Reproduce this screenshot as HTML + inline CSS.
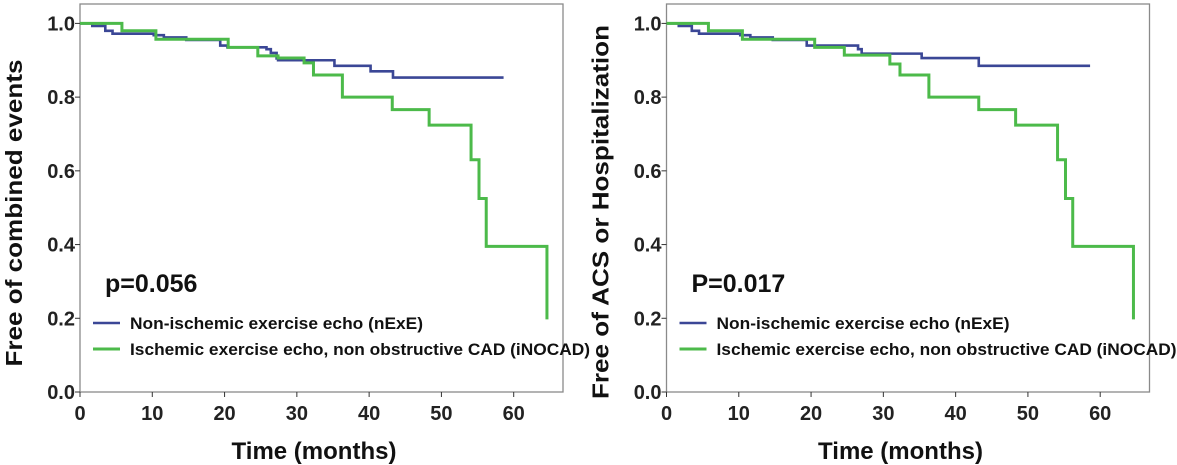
<!DOCTYPE html>
<html><head><meta charset="utf-8"><style>
html,body{margin:0;padding:0;background:#fff;width:1177px;height:465px;overflow:hidden}
svg{display:block;font-family:"Liberation Sans",sans-serif;font-weight:bold}
</style></head><body>
<svg id="chart" width="1177" height="465" viewBox="0 0 1177 465"></svg>
<script>
const xTicks=[0,10,20,30,40,50,60];
const yTicks=[0.0,0.2,0.4,0.6,0.8,1.0];
const yTickLabels=["0.0","0.2","0.4","0.6","0.8","1.0"];
const leftBlueT=[0,1.7,3.5,4.5,10.2,11.6,14.7,19.4,20.4,25.8,26.4,27.2,27.4,31,35.2,40.2,43.3,58.6];
const leftBlueS=[1.0,0.993,0.98,0.972,0.968,0.962,0.955,0.94,0.935,0.93,0.92,0.905,0.9,0.9,0.885,0.87,0.853,0.853];
const leftGreenT=[0,5.8,10.5,20.5,24.6,27.4,31,32.3,36.3,43.2,48.3,54.1,55.2,56.2,64.6];
const leftGreenS=[1.0,0.98,0.957,0.935,0.912,0.906,0.893,0.86,0.8,0.766,0.724,0.63,0.525,0.395,0.197];
const rightBlueT=[0,1.7,3.5,4.5,10.2,11.6,14.7,19.4,20.4,26.5,27,35.3,43.2,58.6];
const rightBlueS=[1.0,0.993,0.98,0.972,0.968,0.962,0.955,0.94,0.94,0.93,0.918,0.906,0.885,0.885];
const rightGreenT=[0,5.8,10.5,20.5,24.6,30.9,32.3,36.3,43.2,48.3,54.1,55.2,56.2,64.6];
const rightGreenS=[1.0,0.98,0.957,0.935,0.914,0.89,0.86,0.8,0.766,0.724,0.63,0.525,0.395,0.197];
const legendLabels=["Non-ischemic exercise echo (nExE)","Ischemic exercise echo, non obstructive CAD (iNOCAD)"];
const pLabels=["p=0.056","P=0.017"];
const yTitles=["Free of combined events","Free of ACS or Hospitalization"];

const NS="http://www.w3.org/2000/svg";
const svg=document.getElementById('chart');
function mk(tag,attrs,parent){const e=document.createElementNS(NS,tag);for(const k in attrs)e.setAttribute(k,attrs[k]);(parent||svg).appendChild(e);return e;}
const BLUE="#3b4796",GREEN="#4cba4a";
function panel(ox,idx,bT,bS,gT,gS){
  const x0=ox,x1=ox+483,yTop=4,yBot=392;
  const xs=t=>x0+t*(433.7/60);
  const ys=v=>392-v*368.6;
  const g=mk('g',{});
  
  
  const fr=mk('rect',{x:x0,y:yTop,width:x1-x0,height:yBot-yTop,fill:'none',stroke:'#8a8a8a','stroke-width':1.3},g);
  
  yTicks.forEach((v,i)=>{
    mk('line',{x1:x0-5,x2:x0,y1:ys(v),y2:ys(v),stroke:'#333','stroke-width':1},g);
    const t=mk('text',{x:x0-5,y:ys(v)+7,'text-anchor':'end','font-size':20,fill:'#222'},g);
    t.textContent=yTickLabels[i];
    
  });
  xTicks.forEach(v=>{
    mk('line',{x1:xs(v),x2:xs(v),y1:yBot,y2:yBot+5,stroke:'#333','stroke-width':1},g);
    const t=mk('text',{x:xs(v),y:420,'text-anchor':'middle','font-size':20,fill:'#222'},g);
    t.textContent=v;
    
  });
  const xt=mk('text',{x:x0+234,y:459,'text-anchor':'middle','font-size':24,fill:'#111'},g);
  xt.textContent="Time (months)";
  
  const len=idx?374:307, cy=idx?212:213;
  const yt=mk('text',{x:0,y:0,'text-anchor':'middle','font-size':23,fill:'#111',textLength:len,lengthAdjust:'spacingAndGlyphs',transform:`translate(${ox-58},${cy}) rotate(-90)`},g);
  yt.textContent=yTitles[idx];
  
  function step(T,S){let d=`M${xs(T[0])},${ys(S[0])}`;for(let i=1;i<T.length;i++){d+=` H${xs(T[i])} V${ys(S[i])}`;}return d;}
  const bl=mk('path',{d:step(bT,bS),fill:'none',stroke:BLUE,'stroke-width':2.6},g);
  
  const gl=mk('path',{d:step(gT,gS),fill:'none',stroke:GREEN,'stroke-width':3},g);
  
  const p=mk('text',{x:x0+25,y:292,'font-size':25,fill:'#111'},g);
  p.textContent=pLabels[idx];
  
  [[BLUE,323,293],[GREEN,349,460]].forEach((c,i)=>{
    const le=mk('g',{},g);
    
    mk('line',{x1:x0+13,x2:x0+40,y1:c[1],y2:c[1],stroke:c[0],'stroke-width':i?3:2.6},le);
    const t=mk('text',{x:x0+50,y:c[1]+6,'font-size':16.5,fill:'#111',textLength:c[2],lengthAdjust:'spacingAndGlyphs'},le);
    t.textContent=legendLabels[i];
  });
}
panel(80,0,leftBlueT,leftBlueS,leftGreenT,leftGreenS);
panel(666.5,1,rightBlueT,rightBlueS,rightGreenT,rightGreenS);
</script>
</body></html>
